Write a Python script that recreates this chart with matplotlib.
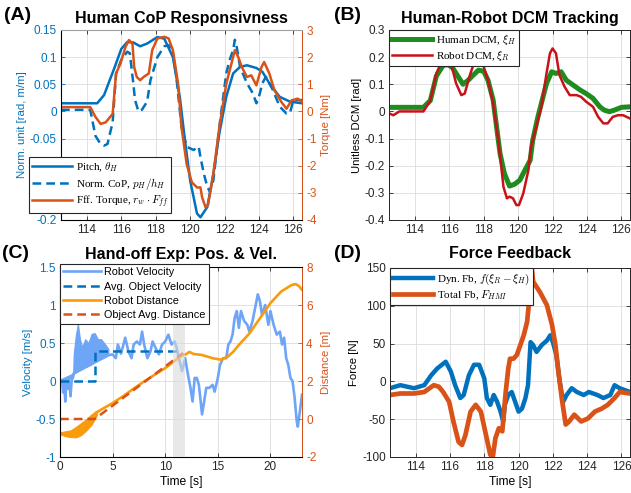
import numpy as np
import matplotlib
matplotlib.use('Agg')
import matplotlib.pyplot as plt
from matplotlib.ticker import FuncFormatter

plt.rcParams['font.family'] = ['Liberation Sans', 'DejaVu Sans']
plt.rcParams['mathtext.fontset'] = 'cm'
plt.rcParams['axes.unicode_minus'] = False

BLUE = '#0072BD'
ORANGE = '#D95319'
GREEN = '#1E8C1E'
RED = '#C8121A'
LBLUE = '#6EA5F7'
DORANGE = '#FA9B0C'
GRID = '#DCDCDC'
AX = '#262626'

# ---------------- (A) Human CoP ----------------
pitch_t = [112.5, 114.6, 115.0, 115.6, 116.0, 116.35, 116.7, 117.1, 117.5, 118.1, 118.5, 119.0, 119.4,
           119.7, 120.0, 120.4, 120.6, 121.0, 121.35, 121.7, 122.1, 122.5, 122.9, 123.3, 123.85, 124.2,
           124.6, 125.2, 125.8, 126.5]
pitch_v = [0.015, 0.015, 0.03, 0.08, 0.115, 0.128, 0.127, 0.12, 0.125, 0.137, 0.134, 0.10, 0.027,
           -0.053, -0.127, -0.188, -0.195, -0.176, -0.115, -0.04, 0.027, 0.07, 0.082, 0.085, 0.08, 0.073,
           0.052, 0.027, 0.018, 0.015]

cop_t = [112.5, 114.2, 114.5, 114.8, 115.0, 115.2, 115.5, 115.7, 116.0, 116.35, 116.5, 116.7, 116.8, 117.0,
         117.2, 117.5, 117.7, 118.1, 118.5, 118.75, 119.0, 119.2, 119.5, 119.8, 120.2, 120.5, 120.6, 120.8,
         121.0, 121.15, 121.35, 121.55, 121.7, 121.9, 122.1, 122.3, 122.5, 122.6, 122.7, 122.9, 123.3,
         123.65, 123.85, 124.0, 124.2, 124.4, 124.8, 125.2, 125.6, 125.8, 126.0, 126.5]
cop_v = [0.003, 0.003, -0.045, -0.06, -0.063, -0.06, -0.02, 0.07, 0.095, 0.11, 0.107, 0.052, 0.021, 0.0,
         0.003, 0.018, 0.058, 0.10, 0.12, 0.122, 0.107, 0.064, -0.028, -0.065, -0.071, -0.065, -0.084, -0.115,
         -0.139, -0.148, -0.127, -0.071, -0.028, 0.021, 0.07, 0.095, 0.113, 0.132, 0.12, 0.082, 0.052,
         0.033, 0.015, 0.027, 0.052, 0.064, 0.04, 0.009, -0.004, -0.003, 0.021, 0.021]

torque_t = [112.5, 114.2, 114.5, 114.8, 115.1, 115.5, 115.7, 115.95, 116.25, 116.45, 116.65, 116.75, 116.9,
            117.1, 117.3, 117.6, 117.8, 118.1, 118.5, 118.75, 119.0, 119.3, 119.5, 119.8, 120.1, 120.4,
            120.6, 120.7, 120.9, 121.05, 121.35, 121.7, 122.1, 122.4, 122.6, 122.8, 123.0, 123.3, 123.55,
            123.85, 124.15, 124.3, 124.6, 124.9, 125.3, 125.6, 125.9, 126.25, 126.5]
torque_v = [0.16, 0.16, -0.2, -0.46, -0.4, -0.09, 1.4, 1.76, 2.38, 2.63, 2.5, 1.64, 1.27, 1.15, 1.27, 1.4,
            2.26, 2.69, 2.75, 2.69, 2.26, 1.02, -0.58, -1.94, -2.61, -2.8, -2.8, -3.17, -3.54, -3.42, -2.3,
            -0.58, 1.02, 1.76, 2.26, 2.0, 1.64, 1.27, 1.33, 0.96, 1.64, 1.82, 1.4, 0.78, 0.35, 0.1, 0.41,
            0.47, 0.35]

# ---------------- (B) DCM tracking ----------------
hdcm_t = [112.5, 114.5, 114.9, 115.25, 115.65, 115.95, 116.2, 116.5, 116.8, 117.1, 117.4, 117.7, 118.0,
          118.25, 118.55, 118.75, 118.95, 119.2, 119.5, 119.8, 120.1, 120.4, 120.7, 120.85, 121.15, 121.45,
          121.65, 121.95, 122.2, 122.5, 122.8, 123.2, 123.6, 123.95, 124.35, 124.75, 125.0, 125.3, 125.6,
          126.0, 126.5]
hdcm_v = [0.015, 0.015, 0.04, 0.13, 0.17, 0.172, 0.16, 0.13, 0.10, 0.115, 0.134, 0.152, 0.148, 0.115,
          0.042, -0.057, -0.155, -0.228, -0.275, -0.268, -0.253, -0.216, -0.18, -0.106, -0.02, 0.054,
          0.103, 0.146, 0.14, 0.146, 0.115, 0.097, 0.079, 0.066, 0.048, 0.017, 0.005, -0.001, 0.005,
          0.015, 0.017]

rdcm_t = [112.5, 112.75, 113.1, 113.9, 114.5, 114.9, 115.25, 115.55, 115.75, 115.95, 116.15, 116.4, 116.7,
          116.9, 117.2, 117.5, 117.7, 118.0, 118.25, 118.55, 118.85, 119.15, 119.35, 119.5, 119.7, 119.9,
          120.05, 120.3, 120.6, 120.75, 121.05, 121.35, 121.65, 121.85, 122.0, 122.2, 122.4, 122.7, 123.0,
          123.4, 123.65, 123.95, 124.35, 124.65, 124.95, 125.2, 125.5, 125.8, 126.1, 126.5]
rdcm_v = [-0.007, -0.014, 0.0, 0.0, 0.0, 0.04, 0.14, 0.183, 0.207, 0.2, 0.165, 0.103, 0.06, 0.066, 0.134,
          0.19, 0.192, 0.165, 0.115, 0.03, -0.106, -0.278, -0.32, -0.314, -0.32, -0.345, -0.345, -0.302,
          -0.216, -0.13, -0.057, 0.017, 0.14, 0.214, 0.232, 0.214, 0.134, 0.091, 0.06, 0.06, 0.054, 0.036,
          0.017, -0.02, -0.044, -0.044, -0.02, -0.014, -0.014, -0.026]

# ---------------- (C) Hand-off ----------------
vel_t = [0.0, 0.2, 0.3, 0.4, 0.5, 0.6, 0.75, 0.85, 1.0, 1.1, 1.3, 4.6, 5.0, 5.3, 5.5, 5.8, 6.2, 6.5, 6.8,
         7.0, 7.3, 7.6, 7.8, 8.0, 8.3, 8.6, 8.8, 9.1, 9.4, 9.7, 10.0, 10.3, 10.6, 10.9, 11.1, 11.3, 11.6,
         11.9, 12.1, 12.4, 12.6, 12.8, 13.0, 13.2, 13.5, 13.7, 13.9, 14.2, 14.5, 14.7, 15.0, 15.2, 15.5,
         15.8, 16.0, 16.2, 16.4, 16.6, 16.8, 17.0, 17.2, 17.5, 17.8, 18.0, 18.3, 18.6, 18.8, 19.0, 19.2,
         19.5, 19.8, 20.0, 20.3, 20.6, 20.9, 21.1, 21.3, 21.5, 21.7, 21.9, 22.1, 22.3, 22.5, 22.6, 22.8, 23.0]
vel_v = [0.0, 0.0, -0.15, 0.0, -0.27, 0.0, -0.1, 0.0, -0.2, 0.0, 0.1, 0.34, 0.35, 0.3, 0.48, 0.36, 0.57,
         0.39, 0.3, 0.48, 0.52, 0.48, 0.65, 0.48, 0.3, 0.39, 0.52, 0.43, 0.35, 0.48, 0.52, 0.61, 0.48, 0.52,
         0.43, 0.3, 0.13, 0.3, 0.13, -0.09, -0.27, 0.04, 0.04, -0.05, -0.44, -0.27, -0.09, -0.09, -0.05,
         -0.14, 0.04, 0.21, 0.3, 0.3, 0.48, 0.52, 0.61, 0.83, 0.92, 0.7, 0.92, 0.79, 0.74, 0.65, 0.79, 1.0,
         1.14, 1.05, 0.87, 1.0, 0.74, 0.92, 0.74, 0.61, 0.65, 0.48, 0.57, 0.3, 0.21, 0.04, 0.0, -0.22,
         -0.53, -0.6, -0.4, -0.18]

vfill_t = [0.0, 1.25, 1.3, 1.5, 1.7, 1.9, 2.1, 2.4, 2.7, 3.0, 3.3, 3.6, 3.9, 4.2, 4.6]
vfill_lo = [0.0, 0.04, 0.10, 0.11, 0.13, 0.14, 0.16, 0.18, 0.20, 0.22, 0.25, 0.27, 0.29, 0.31, 0.34]
vfill_hi = [0.02, 0.10, 0.35, 0.60, 0.75, 0.55, 0.45, 0.55, 0.50, 0.62, 0.63, 0.55, 0.55, 0.50, 0.42]

avgv_t = [0.0, 3.3, 3.3, 11.1]
avgv_v = [0.0, 0.0, 0.4, 0.4]

dist_t = [3.5, 4, 5, 6, 7, 8, 9, 10, 11, 11.5, 12, 12.3, 12.7, 13.5, 14.5, 15.3, 16, 16.5, 17, 18, 19, 20,
          21, 22, 22.4, 22.7, 23]
dist_v = [0.35, 0.52, 0.84, 1.2, 1.6, 1.98, 2.33, 2.68, 3.1, 3.3, 3.42, 3.53, 3.42, 3.37, 3.2, 3.12, 3.3,
          3.56, 3.9, 4.5, 5.3, 6.1, 6.7, 7.05, 7.1, 7.0, 6.8]

dfill_t = [0.0, 0.5, 1.0, 1.5, 2.0, 2.5, 3.0, 3.5]
dfill_lo = [-0.8, -0.9, -0.95, -0.97, -0.85, -0.6, -0.3, 0.2]
dfill_hi = [-0.7, -0.65, -0.6, -0.42, -0.22, 0.0, 0.25, 0.45]

avgd_t = [0.0, 3.3, 11.7]
avgd_v = [0.0, 0.0, 3.47]

# ---------------- (D) Force feedback ----------------
dyn_t = [112.5, 113.1, 113.9, 114.5, 114.9, 115.25, 115.75, 116.05, 116.3, 116.6, 116.8, 117.1, 117.4,
         117.7, 118.0, 118.15, 118.35, 118.55, 118.75, 118.95, 119.1, 119.2, 119.4, 119.6, 119.8, 120.0,
         120.2, 120.4, 120.55, 120.7, 120.85, 121.05, 121.35, 121.65, 121.85, 122.0, 122.2, 122.4, 122.6,
         122.8, 123.1, 123.4, 123.8, 124.1, 124.6, 124.95, 125.35, 125.6, 125.9, 126.5]
dyn_v = [-9, -5, -9, -5, 8, 17, 26, 13, -5, -22, -18, 8, 22, 22, 4, -22, -31, -18, -27, -40, -53, -31,
         -18, -14, -27, -40, -36, -22, -5, 52, 48, 39, 48, 54, 61, 52, 35, 0, -27, -18, -9, -14, -18, -14,
         -18, -22, -18, -5, -9, -14]

tot_t = [112.5, 113.1, 113.9, 114.5, 115.05, 115.35, 115.6, 115.95, 116.2, 116.5, 116.7, 116.9, 117.2,
         117.5, 117.8, 118.1, 118.35, 118.5, 118.65, 118.85, 119.05, 119.25, 119.4, 119.5, 119.7, 119.9,
         120.1, 120.3, 120.5, 120.65, 120.75, 120.85, 121.25, 121.65, 121.95, 122.15, 122.35, 122.55, 122.75,
         122.95, 123.25, 123.65, 124.05, 124.45, 124.85, 125.2, 125.6, 125.9, 126.5]
tot_v = [-18, -16, -16, -14, -5, -7, -14, -27, -53, -80, -84, -71, -40, -31, -40, -71, -97, -99, -75, -62,
         -66, -14, 17, 30, 30, 35, 48, 61, 79, 114, 155, 132, 118, 101, 75, 48, 8, -27, -57, -53, -44, -53,
         -49, -40, -36, -31, -22, -14, -16]

W, H = 631, 493
fig = plt.figure(figsize=(W / 100, H / 100), dpi=100)


def box(l, t, r, b):
    return [l / W, 1 - b / H, (r - l) / W, (b - t) / H]


fmt = FuncFormatter(lambda v, p: '%g' % round(v, 6))
TICKSIZE = 8.5
LABSIZE = 8.2
TITSIZE = 11.5


def style(ax, xt, yt, ycol=AX, top=True, right=True):
    ax.set_xticks(xt)
    ax.set_yticks(yt)
    ax.xaxis.set_major_formatter(fmt)
    ax.yaxis.set_major_formatter(fmt)
    ax.grid(True, color=GRID, lw=0.6)
    ax.set_axisbelow(True)
    ax.tick_params(direction='in', length=3, width=0.6, labelsize=TICKSIZE, top=top, right=right,
                   colors=AX, pad=3)
    ax.tick_params(axis='y', colors=ycol)
    for s in ax.spines.values():
        s.set_linewidth(0.7)
        s.set_color(AX)
    ax.spines['left'].set_color(ycol)


def twin_style(ax2, yt, col):
    ax2.set_yticks(yt)
    ax2.yaxis.set_major_formatter(fmt)
    ax2.tick_params(direction='in', length=3, width=0.6, labelsize=TICKSIZE, colors=col, pad=3)
    ax2.spines['right'].set_color(col)
    ax2.spines['right'].set_linewidth(0.7)


legfont = {'family': ['Liberation Serif', 'DejaVu Serif'], 'size': 8}
tick_t = [114, 116, 118, 120, 122, 124, 126]

# (A)
axA = fig.add_axes(box(61, 30, 302, 220))
style(axA, tick_t, [-0.2, -0.15, -0.1, -0.05, 0, 0.05, 0.1, 0.15], ycol=BLUE, right=False)
axA.spines['top'].set_color('#A0A0A0')
axA.set_xlim(112.5, 126.5)
axA.set_ylim(-0.2, 0.15)
l1, = axA.plot(pitch_t, pitch_v, color=BLUE, lw=1.8, label=r'Pitch, $\theta_H$')
l2, = axA.plot(cop_t, cop_v, color=BLUE, lw=1.8, ls=(0, (3.5, 2)), label=r'Norm. CoP, $p_H/h_H$')
axA.set_ylabel('Norm. unit [rad, m/m]', color=BLUE, fontsize=LABSIZE, labelpad=2)
axA2 = axA.twinx()
axA2.set_ylim(-4, 3)
twin_style(axA2, [-4, -3, -2, -1, 0, 1, 2, 3], ORANGE)
axA2.spines['top'].set_color('#A0A0A0')
l3, = axA2.plot(torque_t, torque_v, color=ORANGE, lw=1.8, label=r'Fff. Torque, $r_w \cdot F_{ff}$')
axA2.set_ylabel('Torque [Nm]', color=ORANGE, fontsize=LABSIZE, labelpad=3)
legA = axA2.legend(handles=[l1, l2, l3], loc='lower left', bbox_to_anchor=(29 / W, 1 - 213 / H),
                   bbox_transform=fig.transFigure, prop=legfont, handlelength=3.6, handletextpad=0.3,
                   labelspacing=0.15, borderpad=0.3, borderaxespad=0, fancybox=False, framealpha=1,
                   edgecolor=AX)
legA.get_frame().set_linewidth(0.8)
fig.text(181.5 / W, 1 - 18 / H, 'Human CoP Responsivness', ha='center', va='center', fontsize=TITSIZE,
         fontweight='bold')
fig.text(4 / W, 1 - 15 / H, '(A)', ha='left', va='center', fontsize=14, fontweight='bold')

# (B)
axB = fig.add_axes(box(389, 30, 630, 220))
style(axB, tick_t, [-0.4, -0.3, -0.2, -0.1, 0, 0.1, 0.2, 0.3])
axB.set_xlim(112.5, 126.5)
axB.set_ylim(-0.4, 0.3)
axB.plot(hdcm_t, hdcm_v, color=GREEN, lw=3.6, label=r'Human DCM, $\xi_H$')
axB.plot(rdcm_t, rdcm_v, color=RED, lw=1.8, label=r'Robot DCM, $\xi_R$')
axB.set_ylabel('Unitless DCM [rad]', fontsize=LABSIZE, labelpad=2)
legB = axB.legend(loc='upper left', prop=legfont, handlelength=3.6, handletextpad=0.3, labelspacing=0.15,
                  borderpad=0.3, borderaxespad=0, fancybox=False, framealpha=1, edgecolor=AX)
legB.get_frame().set_linewidth(0.8)
fig.text(509.5 / W, 1 - 18 / H, 'Human-Robot DCM Tracking', ha='center', va='center', fontsize=TITSIZE,
         fontweight='bold')
fig.text(334 / W, 1 - 15 / H, '(B)', ha='left', va='center', fontsize=14, fontweight='bold')

# (C)
axC = fig.add_axes(box(60, 267, 302, 457))
style(axC, [0, 5, 10, 15, 20], [-1, -0.5, 0, 0.5, 1, 1.5], ycol=BLUE, right=False)
axC.set_xlim(0, 23)
axC.set_ylim(-1, 1.5)
axC.fill_between(vfill_t, vfill_lo, vfill_hi, color=LBLUE, lw=0.8, edgecolor=LBLUE)
c1, = axC.plot(vel_t, vel_v, color=LBLUE, lw=1.9, label='Robot Velocity')
c2, = axC.plot(avgv_t, avgv_v, color=BLUE, lw=1.8, ls=(0, (3.5, 2)), label='Avg. Object Velocity')
axC.set_ylabel('Velocity [m/s]', color=BLUE, fontsize=LABSIZE, labelpad=2)
axC.set_xlabel('Time [s]', fontsize=LABSIZE + 0.5, labelpad=2)
axC2 = axC.twinx()
axC2.set_ylim(-2, 8)
twin_style(axC2, [-2, 0, 2, 4, 6, 8], ORANGE)
axC2.fill_between(dfill_t, dfill_lo, dfill_hi, color=DORANGE, lw=0.8, edgecolor=DORANGE)
c3, = axC2.plot(dist_t, dist_v, color=DORANGE, lw=1.9, label='Robot Distance')
c4, = axC2.plot(avgd_t, avgd_v, color=ORANGE, lw=1.8, ls=(0, (3.5, 2)), label='Object Avg. Distance')
axC2.axvspan(10.7, 11.9, color='#DADADA', alpha=0.6, lw=0, zorder=5)
axC2.set_ylabel('Distance [m]', color=ORANGE, fontsize=LABSIZE, labelpad=3)
legC = axC2.legend(handles=[c1, c2, c3, c4], loc='upper left', bbox_to_anchor=(60 / W, 1 - 264 / H),
                   bbox_transform=fig.transFigure, prop={'size': 7.8}, handlelength=3.5,
                   handletextpad=0.3, labelspacing=0.4, borderpad=0.3, borderaxespad=0, fancybox=False,
                   framealpha=1, edgecolor=AX)
legC.get_frame().set_linewidth(0.8)
legC.set_zorder(10)
fig.text(181 / W, 1 - 254 / H, 'Hand-off Exp: Pos. & Vel.', ha='center', va='center', fontsize=TITSIZE,
         fontweight='bold')
fig.text(2 / W, 1 - 254 / H, '(C)', ha='left', va='center', fontsize=14, fontweight='bold')

# (D)
axD = fig.add_axes(box(390, 268, 630, 457))
style(axD, tick_t, [-100, -50, 0, 50, 100, 150])
axD.set_xlim(112.5, 126.5)
axD.set_ylim(-100, 150)
axD.plot(dyn_t, dyn_v, color=BLUE, lw=3.2, label=r'Dyn. Fb, $f(\xi_R - \xi_H)$')
axD.plot(tot_t, tot_v, color=ORANGE, lw=3.4, label=r'Total Fb, $F_{HMI}$')
axD.set_ylabel('Force [N]', fontsize=LABSIZE, labelpad=2)
axD.set_xlabel('Time [s]', fontsize=LABSIZE + 0.5, labelpad=2)
legD = axD.legend(loc='upper left', prop=legfont, handlelength=3.6, handletextpad=0.3, labelspacing=0.15,
                  borderpad=0.3, borderaxespad=0, fancybox=False, framealpha=1, edgecolor=AX)
legD.get_frame().set_linewidth(0.8)
fig.text(510 / W, 1 - 254 / H, 'Force Feedback', ha='center', va='center', fontsize=TITSIZE,
         fontweight='bold')
fig.text(334 / W, 1 - 254 / H, '(D)', ha='left', va='center', fontsize=14, fontweight='bold')

fig.savefig('out.png', dpi=100)
